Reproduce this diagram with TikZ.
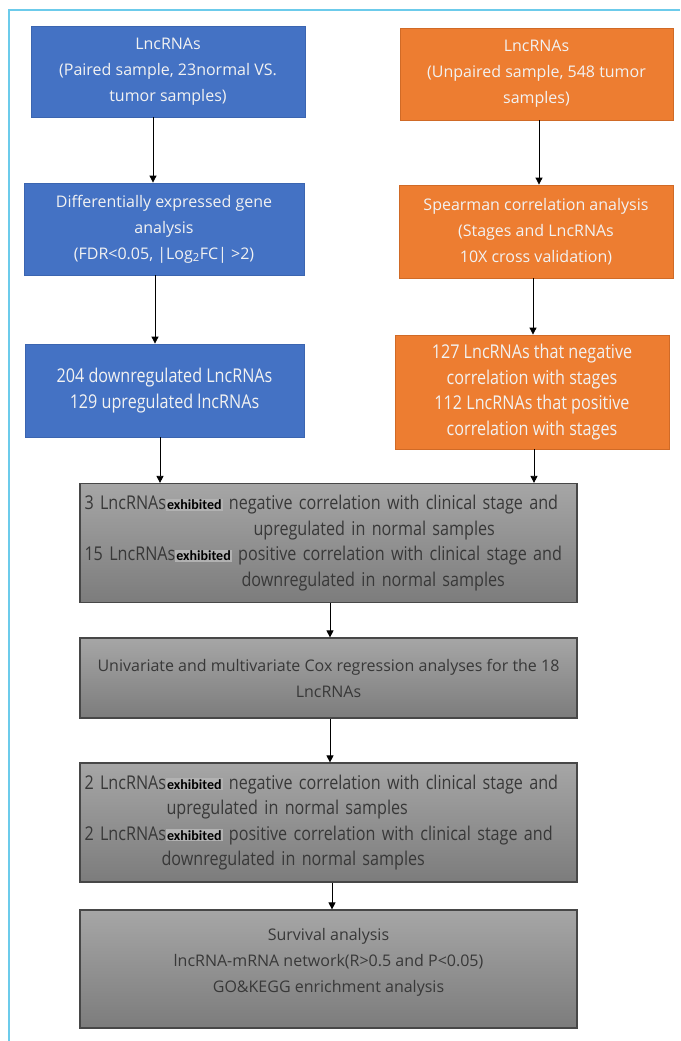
\documentclass[tikz,border=0pt]{standalone}
\usepackage{fontspec}
\setmainfont{Open Sans}
\newfontfamily\narrowfont[FakeStretch=0.85]{Open Sans}
\newfontfamily\exfont{Carlito}
\usetikzlibrary{arrows.meta}
\definecolor{boxblue}{HTML}{4472C4}
\definecolor{blueedge}{HTML}{3B65B0}
\definecolor{boxorange}{HTML}{ED7D31}
\definecolor{orangeedge}{HTML}{D06A26}
\definecolor{boxtext}{HTML}{F2F2F2}
\definecolor{graytop}{HTML}{A6A6A6}
\definecolor{graybot}{HTML}{7C7C7C}
\definecolor{grayedge}{HTML}{474747}
\definecolor{graytext}{HTML}{383838}
\definecolor{exhib}{HTML}{B2B2B2}
\definecolor{framecol}{HTML}{6CCBEB}
\newcommand\exw{{\setlength{\fboxsep}{1pt}\colorbox{exhib}{\exfont\bfseries\fontsize{14}{14}\selectfont\color{black}exhibited}}}

\begin{document}
\begin{tikzpicture}[x=1pt,y=-1pt,
    box/.style={rectangle,draw,line width=0.8pt,inner sep=0pt,align=center,font=\fontsize{16}{26}\selectfont},
    narrow/.style={font=\narrowfont\fontsize{19}{25.5}\selectfont},
    bluebox/.style={box,fill=boxblue,draw=blueedge,text=boxtext},
    orangebox/.style={box,fill=boxorange,draw=orangeedge,text=boxtext},
    graybox/.style={box,top color=graytop,bottom color=graybot,draw=grayedge,line width=1.2pt,text=graytext,minimum width=497pt},
    flow/.style={line width=0.8pt,-{Triangle[width=7pt,length=7pt]}}]
    \useasboundingbox (0,0) rectangle (680,1041);
    \draw[framecol,line width=1.5pt] (9,1041) -- (9,10) -- (680,10);

    \node[bluebox,minimum width=274pt,minimum height=91pt] (L1) at (168,71.5) {LncRNAs\\(Paired sample, 23normal VS.\\tumor samples)};
    \node[orangebox,minimum width=273pt,minimum height=92pt] (R1) at (536.5,74) {LncRNAs\\(Unpaired sample, 548 tumor\\samples)};
    \node[bluebox,minimum width=280pt,minimum height=92pt] (L2) at (164,229) {Differentially expressed gene\\analysis\\(FDR<0.05, |Log\textsubscript{2}FC| >2)};
    \node[orangebox,minimum width=274pt,minimum height=93pt] (R2) at (536,231.5) {Spearman correlation analysis\\(Stages and LncRNAs\\10X cross validation)};
    \node[bluebox,narrow,minimum width=279pt,minimum height=93pt] (L3) at (164.5,390.5) {204 downregulated LncRNAs\\129 upregulated lncRNAs};
    \node[orangebox,narrow,minimum width=274pt,minimum height=114pt] (R3) at (532,392) {127 LncRNAs that negative\\correlation with stages\\112 LncRNAs that positive\\correlation with stages};

    \node[graybox,narrow,minimum height=119pt,text width=488pt,align=left] (G1) at (328.5,543) {3 LncRNAs\exw\ negative correlation with clinical stage and\\\hspace*{169pt}upregulated in normal samples\\15 LncRNAs\exw\ positive correlation with clinical stage and\\\hspace*{157pt}downregulated in normal samples};
    \node[graybox,minimum height=80pt] (G2) at (328.5,678) {Univariate and multivariate Cox regression analyses for the 18\\LncRNAs};
    \node[graybox,narrow,minimum height=119pt,text width=488pt,align=left] (G3) at (328.5,822.5) {2 LncRNAs\exw\ negative correlation with clinical stage and\\\hspace*{82pt}upregulated in normal samples\\2 LncRNAs\exw\ positive correlation with clinical stage and\\\hspace*{77pt}downregulated in normal samples};
    \node[graybox,minimum height=118pt] (G4) at (328.5,969) {Survival analysis\\lncRNA-mRNA network(R>0.5 and P<0.05)\\GO\&KEGG enrichment analysis\\[-8pt]\mbox{}};

    \draw[flow] ([xshift=-15pt]L1.south) -- ([xshift=-15pt]L1.south |- L2.north);
    \draw[flow] ([xshift=2.5pt]R1.south) -- ([xshift=2.5pt]R1.south |- R2.north);
    \draw[flow] ([xshift=-9pt]L2.south) -- ([xshift=-9pt]L2.south |- L3.north);
    \draw[flow] ([xshift=-3pt]R2.south) -- ([xshift=-3pt]R2.south |- R3.north);
    \draw[flow] ([xshift=-4.5pt]L3.south) -- ([xshift=-4.5pt]L3.south |- G1.north);
    \draw[flow] ([xshift=2pt]R3.south) -- ([xshift=2pt]R3.south |- G1.north);
    \draw[flow] ([xshift=1.5pt]G1.south) -- ([xshift=1.5pt]G1.south |- G2.north);
    \draw[flow] ([xshift=1.5pt]G2.south) -- ([xshift=1.5pt]G2.south |- G3.north);
    \draw[flow] ([xshift=3.5pt]G3.south) -- ([xshift=3.5pt]G3.south |- G4.north);
\end{tikzpicture}
\end{document}
